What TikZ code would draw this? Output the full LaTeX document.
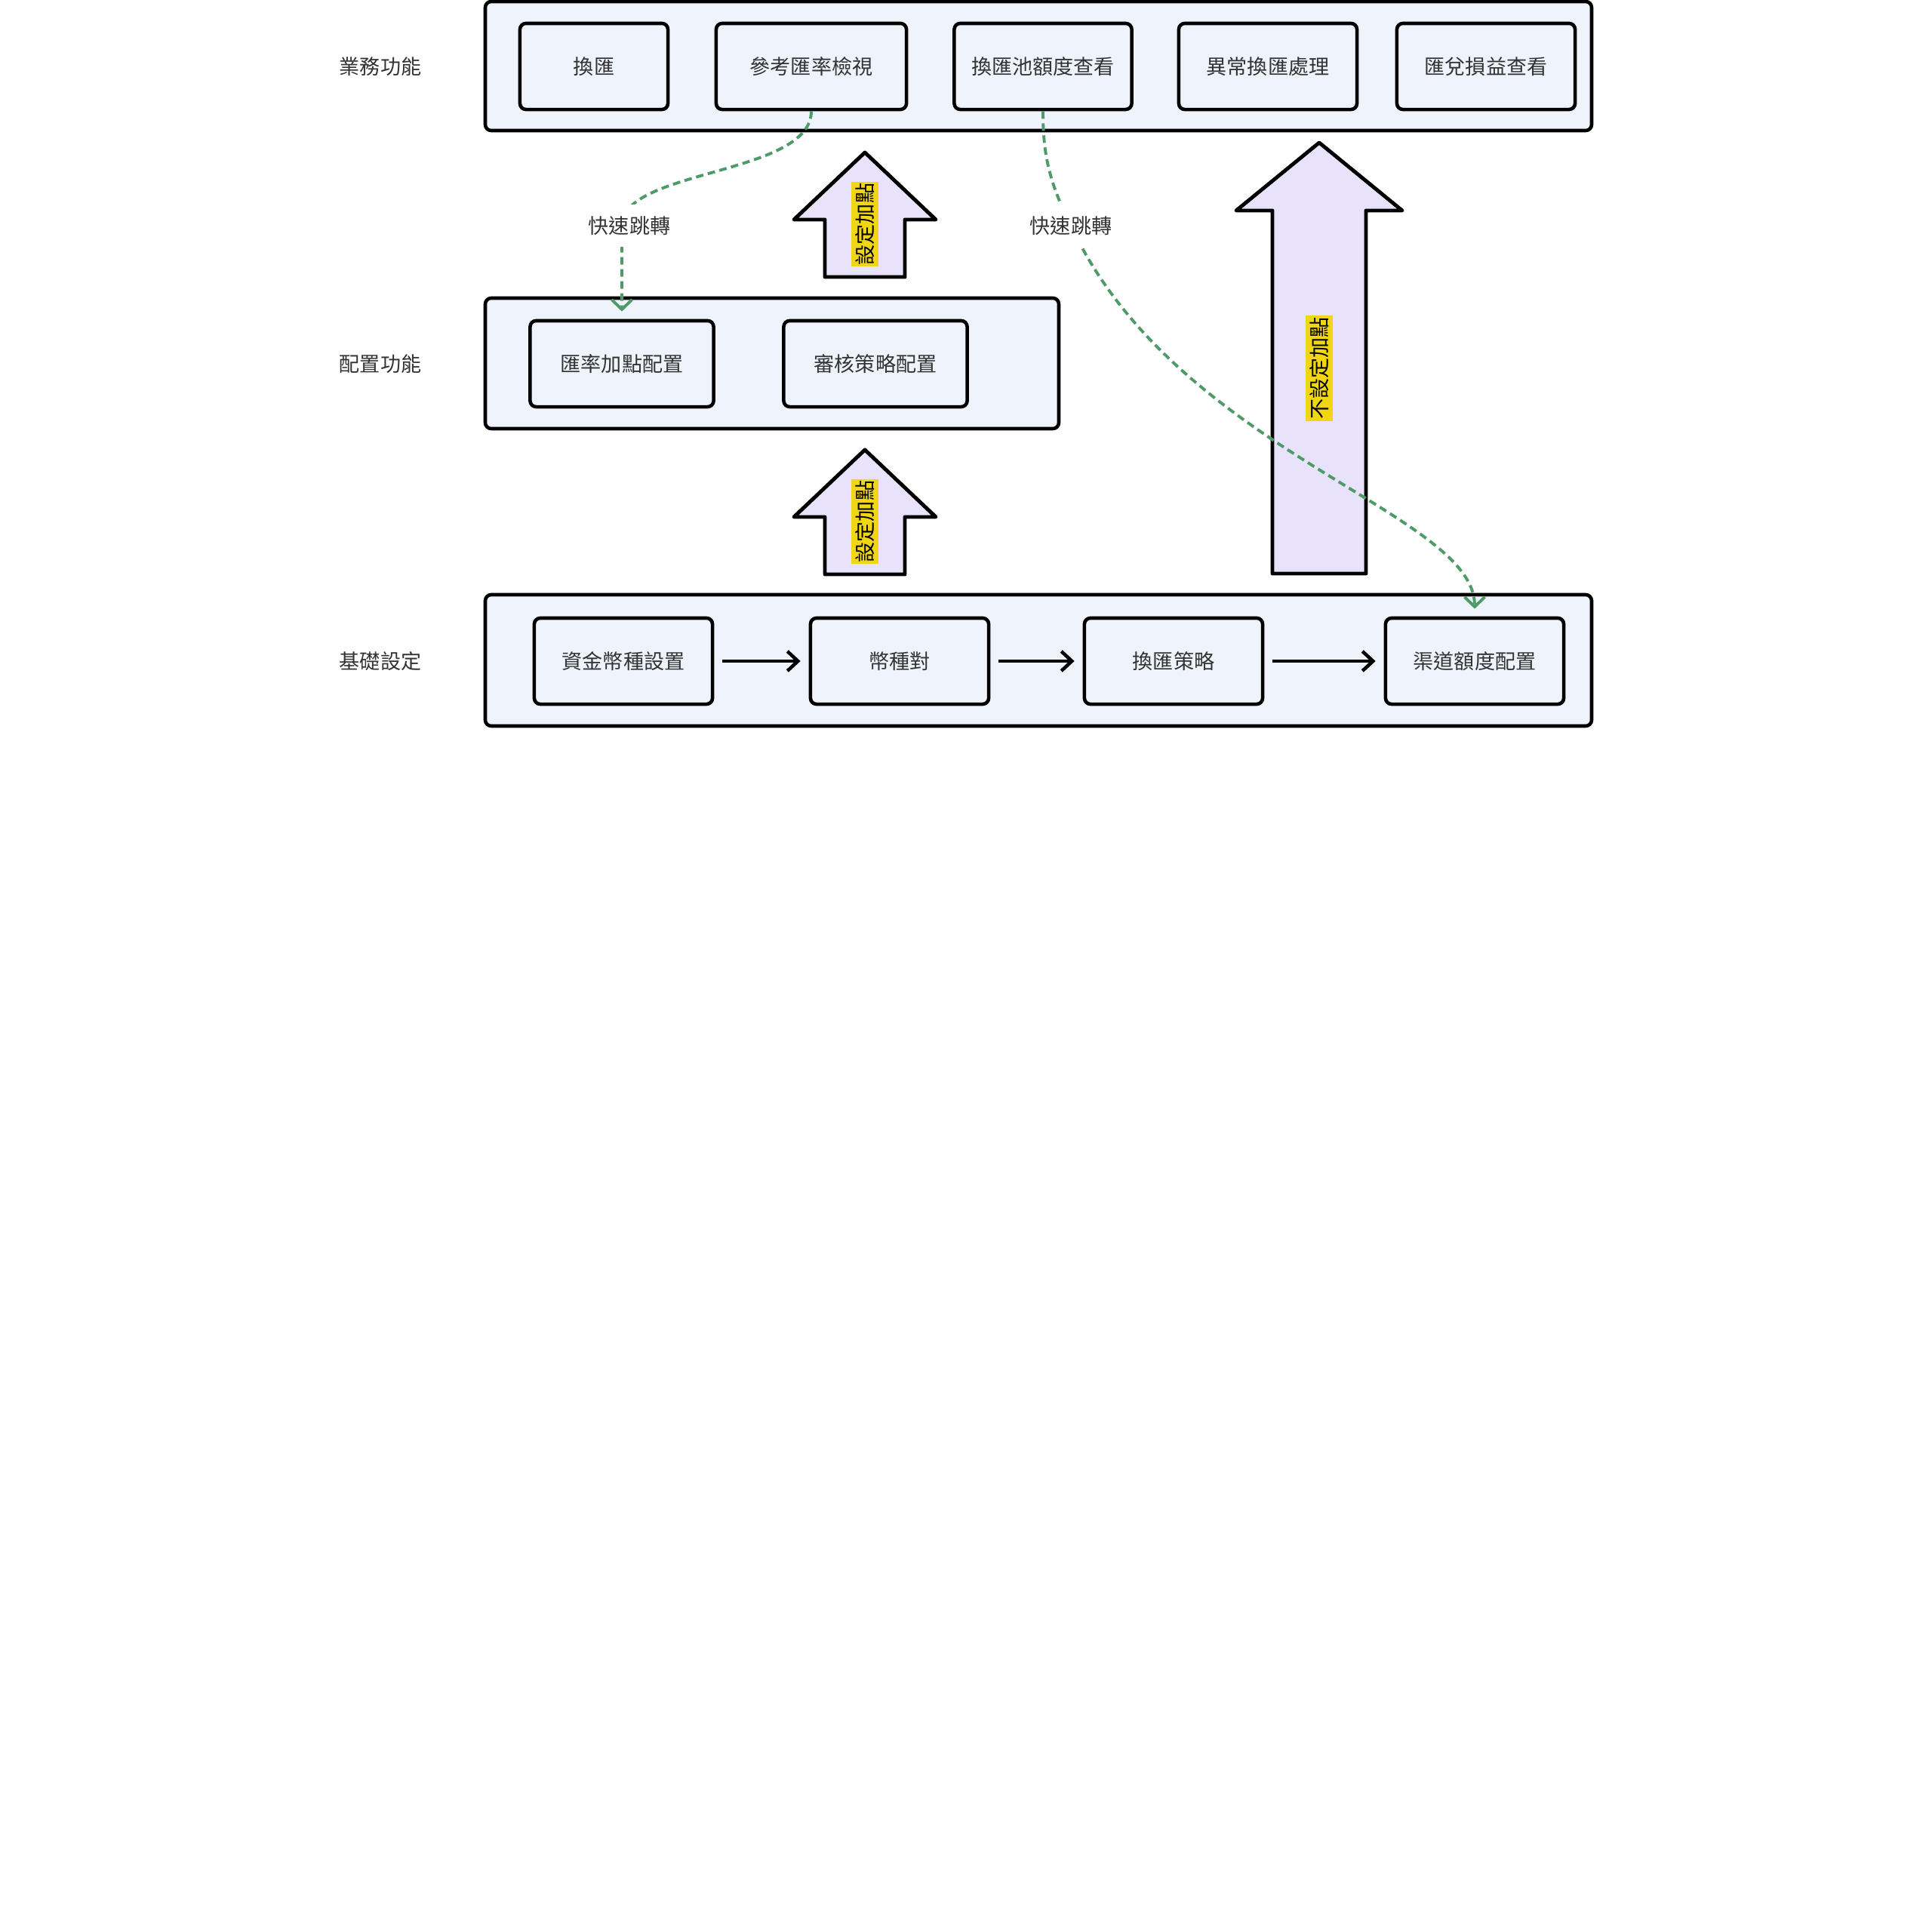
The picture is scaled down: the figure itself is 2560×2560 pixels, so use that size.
\documentclass[tikz,border=0pt]{standalone}
\usepackage{fontspec}
\setmainfont{Noto Sans CJK TC}
\usetikzlibrary{arrows.meta}

\definecolor{groupfill}{HTML}{EEF3FC}
\definecolor{arrowfill}{HTML}{E8E2FA}
\definecolor{tagyellow}{HTML}{F0D614}
\definecolor{jumpgreen}{HTML}{4E9A68}
\definecolor{textgray}{HTML}{333333}

\begin{document}
\begin{tikzpicture}[x=0.01cm,y=-0.01cm,
    font=\fontsize{7.7pt}{9pt}\selectfont,text=textgray,
    group/.style={draw=black,line width=1.3pt,fill=groupfill,rounded corners=0.08cm},
    box/.style={draw=black,line width=1.3pt,fill=groupfill,rounded corners=0.08cm,minimum height=1.14cm,inner sep=0pt},
    flow/.style={line width=1.3pt,-{Straight Barb[length=1.4mm,width=2.6mm]},shorten <=0.11cm,shorten >=0.11cm},
    jump/.style={jumpgreen,line width=1.1pt,dash pattern=on 0.1cm off 0.06cm,-{Straight Barb[length=1.3mm,width=2.7mm]},shorten >=0.1cm},
    jumplbl/.style={fill=white,inner xsep=0.08cm,inner ysep=0.15cm},
    fatarrow/.style={draw=black,line width=1.4pt,fill=arrowfill,line join=round},
    arrowtag/.style={fill=tagyellow,rotate=90,inner xsep=0.02cm,inner ysep=0.05cm,text=black}]

\useasboundingbox (0,0) rectangle (2560,2560);

%label layers
\node (bizlbl) at (504,88) {業務功能};
\node (cfglbl) at (504,482) {配置功能};
\node (baselbl) at (504,876) {基礎設定};

%draw layer frames
\draw[group] (643,2) rectangle (2109,173);
\draw[group] (643,395) rectangle (1403,568);
\draw[group] (643,788) rectangle (2109,962);

%business functions
\foreach \nm/\x/\w/\txt in {exch/787/1.96/換匯, refrate/1075/2.52/參考匯率檢視, pool/1382/2.35/換匯池額度查看, abnormal/1680/2.36/異常換匯處理, pnl/1969/2.36/匯兌損益查看}
    {
    \node[box,minimum width=\w cm] (\nm) at (\x,88) {\txt};
    }

%config functions
\node[box,minimum width=2.43cm] (markup) at (824,482) {匯率加點配置};
\node[box,minimum width=2.43cm] (review) at (1160,482) {審核策略配置};

%base settings
\foreach \nm/\x/\txt in {fund/826/資金幣種設置, pair/1192/幣種對, strat/1555/換匯策略, chan/1954/渠道額度配置}
    {
    \node[box,minimum width=2.36cm] (\nm) at (\x,876) {\txt};
    }
\draw[flow] (fund) -- (pair);
\draw[flow] (pair) -- (strat);
\draw[flow] (strat) -- (chan);

%fat arrows between layers
\foreach \dy in {0,394}
    {
    \filldraw[fatarrow] (1146,{202+\dy}) -- (1240,{291+\dy}) -- (1199,{291+\dy}) -- (1199,{367+\dy}) -- (1093,{367+\dy}) -- (1093,{291+\dy}) -- (1052,{291+\dy}) -- cycle;
    }
\filldraw[fatarrow] (1748,189) -- (1858,279) -- (1810,279) -- (1810,760) -- (1686,760) -- (1686,279) -- (1638,279) -- cycle;
\node[arrowtag] (tagA) at (1146,297) {設定加點};
\node[arrowtag] (tagB) at (1146,691) {設定加點};
\node[arrowtag] (tagC) at (1748,488) {不設定加點};

%quick jumps
\coordinate (jumpA) at (834,299);
\coordinate (jumpB) at (1419,299);
\draw[jump] (refrate.south) .. controls +(0,85) and +(0,-75) .. (markup.north |- jumpA) -- (markup.north);
\draw[jump] (pool.south) .. controls +(0,55) and +(-30,-60) .. (jumpB) .. controls +(140,300) and +(0,-138) .. (chan.north);
\node[jumplbl] (lblA) at (jumpA) {快速跳轉};
\node[jumplbl] (lblB) at (jumpB) {快速跳轉};

\end{tikzpicture}
\end{document}
